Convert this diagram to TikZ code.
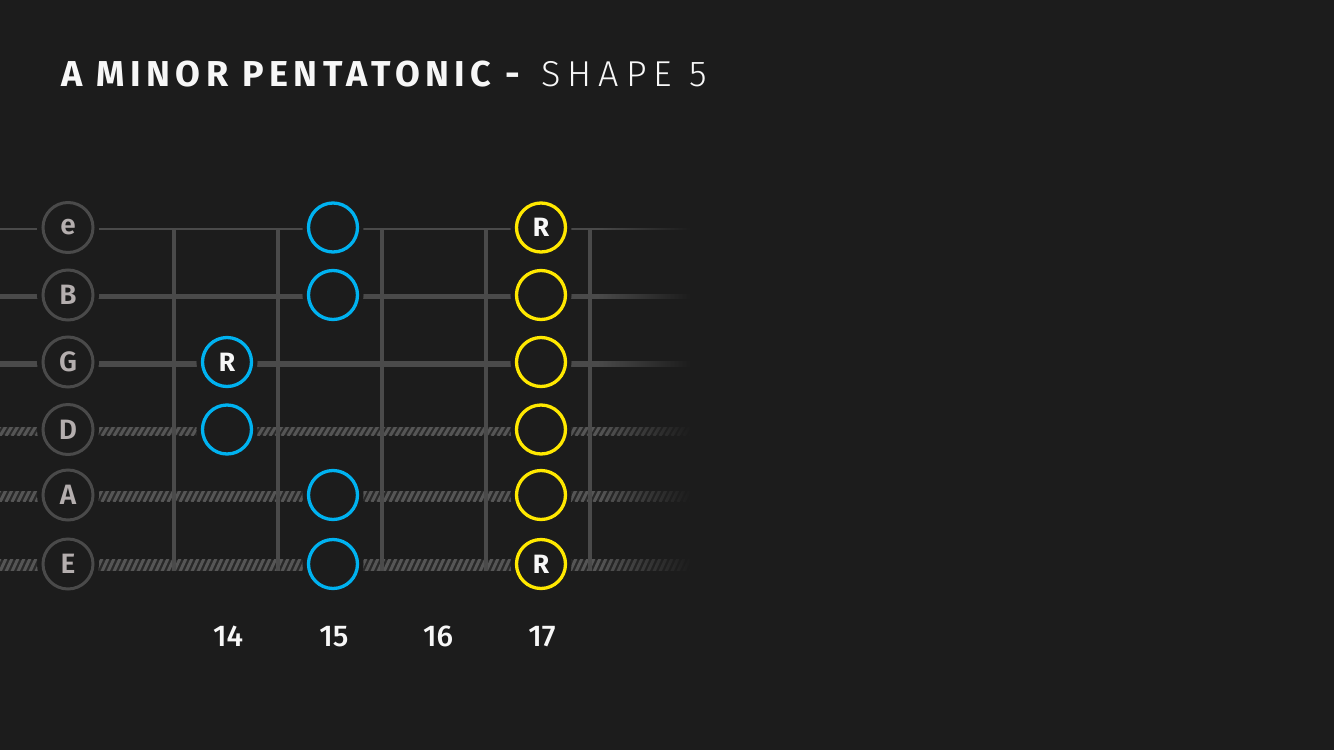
\documentclass[tikz,border=0pt]{standalone}
\usepackage{fontspec}
\usetikzlibrary{fadings,calc}
\setmainfont{Fira Sans}
\newfontfamily\titlebold[LetterSpace=15.3]{Fira Sans Bold}
\newfontfamily\titlelight[LetterSpace=19.5]{Fira Sans Light}
\newfontfamily\labfont{Fira Sans SemiBold}
\newfontfamily\rfont{Fira Sans Bold}
\newfontfamily\numfont{Fira Sans Medium}
\definecolor{bg}{HTML}{1C1C1C}
\definecolor{strcol}{HTML}{4A4A4A}
\definecolor{stripecol}{HTML}{555555}
\definecolor{woundbg}{HTML}{282828}
\definecolor{labtext}{HTML}{B4AEAE}
\definecolor{blue}{HTML}{00B2F0}
\definecolor{yellow}{HTML}{FFE800}
\definecolor{offwhite}{HTML}{F7F7F7}
\tikzset{
  fretline/.style={strcol, line width=3.5pt},
  strlabel/.style={circle, draw=strcol, line width=3pt, minimum size=50pt, inner sep=0pt,
    fill=bg, text=labtext, font=\labfont\fontsize{28}{28}\selectfont,
    preaction={draw=bg, line width=12pt}},
  notecirc/.style={circle, draw=#1, line width=3.3pt, minimum size=49pt, inner sep=0pt,
    fill=bg, text=offwhite, font=\rfont\fontsize{26.5}{26.5}\selectfont,
    preaction={draw=bg, line width=12pt}},
  fretnum/.style={anchor=base, inner sep=0pt, text=offwhite, font=\numfont\fontsize{30}{30}\selectfont},
}
\newcommand\woundstring[3]{%
  \begin{scope}
    \clip ($(#1L)+(0,-#3/2)$) rectangle ($(#1R)+(0,#3/2)$);
    \fill[woundbg] (0,#2-#3/2) rectangle (690,#2+#3/2);
    \foreach \xx in {-12,-6,...,696}
      \draw[stripecol, line width=3pt] (\xx,#2+#3/2+1) -- (\xx+6,#2-#3/2-1);
  \end{scope}}
\begin{document}
\begin{tikzpicture}[x=1pt,y=-1pt]
\fill[bg] (0,0) rectangle (1334,750);
\useasboundingbox (0,0) rectangle (1334,750);

% title
\node[anchor=base west, inner sep=0pt, text=offwhite] (title) at (61,86)
  {\fontsize{36}{36}\selectfont{\titlebold A MINOR PENTATONIC -}\hspace{21pt}{\titlelight SHAPE 5}};

% strings
\foreach \s/\y in {e/229,B/296.5,G/363.5,D/431,A/496,E/565}{
  \coordinate (\s L) at (0,\y);
  \coordinate (\s R) at (690,\y);
}
\draw[strcol, line width=2.5pt] (eL) -- (eR);
\draw[strcol, line width=4.5pt] (BL) -- (BR);
\draw[strcol, line width=6pt] (GL) -- (GR);
\woundstring{D}{431}{8}
\woundstring{A}{496}{10}
\woundstring{E}{565}{11}

% frets
\foreach \x [count=\i] in {174,278,382,486,590}{
  \coordinate (ft\i) at (\x,228);
  \coordinate (fb\i) at (\x,571);
  \draw[fretline] (ft\i) -- (fb\i);
}

% fade on the right
\fill[bg, path fading=west] (598,210) rectangle (691,585);

% string labels
\node[strlabel] (labe) at (68,227.5) {e};
\node[strlabel] (labB) at (68,295) {B};
\node[strlabel] (labG) at (68,362) {G};
\node[strlabel] (labD) at (68,429.5) {D};
\node[strlabel] (labA) at (68,495) {A};
\node[strlabel] (labE) at (68,564) {E};

% notes
\node[notecirc=blue] (n14G) at (227,362) {R};
\node[notecirc=blue] (n14D) at (227,429.5) {};
\node[notecirc=blue] (n15e) at (333,227.5) {};
\node[notecirc=blue] (n15B) at (333,295) {};
\node[notecirc=blue] (n15A) at (333,495) {};
\node[notecirc=blue] (n15E) at (333,564) {};
\node[notecirc=yellow] (n17e) at (541,227.5) {R};
\node[notecirc=yellow] (n17B) at (541,295) {};
\node[notecirc=yellow] (n17G) at (541,362) {};
\node[notecirc=yellow] (n17D) at (541,429.5) {};
\node[notecirc=yellow] (n17A) at (541,495) {};
\node[notecirc=yellow] (n17E) at (541,564) {R};

% fret numbers
\node[fretnum] (f14) at (228,646) {14};
\node[fretnum] (f15) at (334,646) {15};
\node[fretnum] (f16) at (438,646) {16};
\node[fretnum] (f17) at (542,646) {17};
\end{tikzpicture}
\end{document}
